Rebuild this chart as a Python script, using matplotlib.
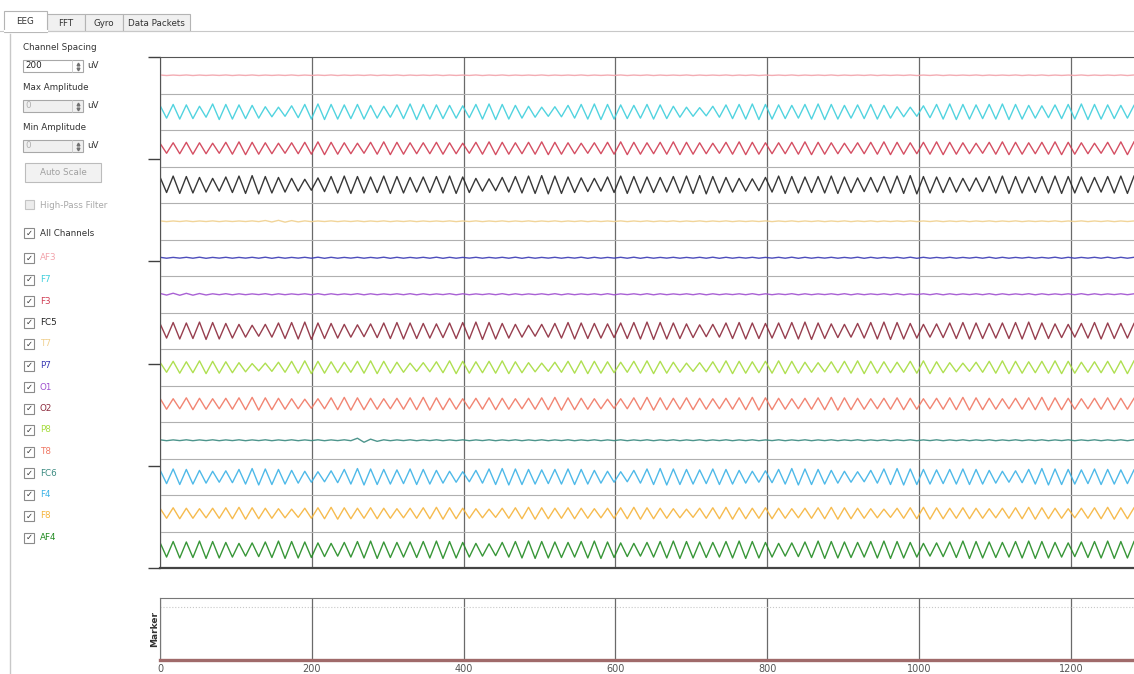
import numpy as np
import matplotlib.pyplot as plt
from matplotlib.patches import Rectangle

# channel names, top to bottom, and their trace colours
channels = ["AF3", "F7", "F3", "FC5", "T7", "P7", "O1",
            "O2", "P8", "T8", "FC6", "F4", "F8", "AF4"]
colors = ["#f2a3ab", "#3fcfdc", "#d03c52", "#222222", "#f0d08e", "#3a3ab4", "#a050d0",
          "#8c2a3c", "#a6dc3e", "#f07864", "#3a8a80", "#3cb2e6", "#f5b43c", "#228b22"]

# peak-to-peak height (uV) of each wave cycle, read left to right
af3 = [3,2,3,2,2,3,2,3,2,2, 3,2,2,3,2,2,3,2,3,2, 2,3,2,2,3,2,3,2,2,3,
       2,2,3,2,2,3,2,3,2,2, 3,2,2,3,2,3,2,2,3,2, 2,3,2,2,3,2,2,3,2,3,
       2,2,3,2,2,3,2,3,2,2, 3,2,2,3]
f7 = [70,80,75,60,85,80,75,70,55,50, 65,80,85,80,75,80,70,60,75,85,
      80,75,70,65,80,85,80,70,60,50, 55,70,80,85,80,75,70,80,75,60,
      50,45,60,75,80,85,80,75,70,80, 85,80,70,75,80,70,55,50,65,80,
      85,80,75,80,85,80,70,65,75,80, 85,80,75,70]
f3 = [55,60,65,60,55,65,70,65,60,55, 60,65,70,65,60,55,65,70,65,60,
      60,65,60,55,65,70,65,60,65,70, 65,60,55,60,65,70,65,60,65,70,
      65,60,55,65,70,65,60,60,65,70, 65,60,55,60,65,70,65,60,65,70,
      65,60,55,65,70,65,60,65,70,65, 60,55,65,70]
fc5 = [85,95,90,80,70,85,95,100,90,80, 70,60,75,90,95,90,85,95,90,80,
       85,90,95,85,70,65,80,90,95,100, 95,85,75,70,85,95,90,85,80,90,
       95,100,90,80,70,65,80,95,90,85, 90,95,85,75,80,90,95,100,90,85,
       80,70,75,90,95,90,85,90,95,90, 85,80,90,95]
t7 = [4,3,4,3,4,3,3,4,8,10, 7,4,3,4,3,4,3,4,3,4, 3,3,4,3,4,3,4,3,4,3,
      4,3,4,3,3,4,3,4,3,4, 3,4,3,4,3,3,4,3,4,3, 4,3,4,3,4,3,3,4,3,4,
      3,4,3,4,3,4,3,3,4,3, 4,3,4,3]
p7 = [5,4,5,6,4,5,4,5,6,5, 4,5,6,5,4,5,4,6,5,4, 5,6,5,4,5,4,5,6,5,4,
      5,4,6,5,4,5,6,5,4,5, 4,5,6,5,4,5,4,5,6,5, 4,5,4,6,5,4,5,6,5,4,
      5,4,5,6,5,4,5,4,6,5, 4,5,6,5]
o1 = [9,11,10,8,5,6,5,4,6,5, 4,5,6,5,4,6,5,4,5,6, 5,4,6,5,4,5,6,5,4,5,
      6,5,4,5,6,4,5,6,5,4, 5,6,5,4,5,6,5,4,6,5, 4,5,6,5,4,5,6,4,5,6,
      5,4,5,6,5,4,6,5,4,5, 6,5,4,5]
o2 = [80,90,85,95,90,80,70,60,70,85, 90,95,85,80,70,65,75,85,90,85,
      80,75,85,90,95,90,80,70,60,70, 80,90,85,80,75,85,90,95,90,85,
      75,65,70,85,90,85,80,85,90,95, 85,75,70,80,90,95,90,80,70,75,
      85,90,85,80,85,90,95,85,75,70, 80,90,85,80]
p8 = [55,65,60,70,65,60,50,40,45,55, 65,70,65,60,55,65,70,65,55,45,
      50,60,70,65,60,65,70,60,50,45, 55,65,70,65,60,55,65,70,65,55,
      45,50,60,70,65,60,65,70,65,55, 50,60,65,70,65,60,55,65,70,60,
      50,45,55,65,70,65,60,65,70,65, 55,60,65,70]
t8 = [60,55,65,60,55,60,65,70,65,60, 55,50,55,65,70,65,60,55,60,65,
      70,65,60,55,60,65,60,55,60,65, 70,65,60,55,50,55,65,70,65,60,
      65,60,55,60,65,70,65,60,55,60, 65,70,65,60,55,60,65,60,55,60,
      65,70,65,60,55,60,65,70,65,60, 55,60,65,60]
fc6 = [5,4,5,4,5,4,5,4,5,4, 5,4,5,4,5,22,12,5,4,5, 4,5,4,5,4,5,4,5,4,5,
       4,5,4,5,4,5,4,5,4,5, 4,5,4,5,4,5,4,5,4,5, 4,5,4,5,4,5,4,5,4,5,
       4,5,4,5,4,5,4,5,4,5, 4,5,4,5]
f4 = [75,85,80,70,60,65,80,90,85,80, 70,60,55,65,80,90,85,80,75,85,
      80,70,60,55,70,85,90,85,80,75, 80,85,80,70,60,55,70,85,90,85,
      80,75,85,80,70,60,65,80,90,85, 80,70,60,55,70,85,90,85,80,75,
      80,85,80,70,60,65,80,90,85,80, 75,85,80,75]
f8 = [55,60,55,50,55,60,65,60,55,50, 45,55,60,65,60,55,60,55,50,55,
      60,65,60,55,50,45,55,60,65,60, 55,60,55,50,55,60,65,60,55,50,
      45,55,60,65,60,55,60,55,50,55, 60,65,60,55,50,45,55,60,65,60,
      55,60,55,50,55,60,65,60,55,50, 55,60,65,60]
af4 = [80,90,85,95,90,80,70,75,85,95, 90,85,75,70,80,90,95,85,80,85,
       90,95,90,80,70,65,80,90,95,90, 85,80,90,95,85,75,70,80,90,95,
       90,85,80,90,95,90,80,70,75,85, 95,90,85,80,90,95,90,80,70,75,
       85,95,90,85,80,90,95,90,80,75, 85,90,95,90]
waves = [af3, f7, f3, fc5, t7, p7, o1, o2, p8, t8, fc6, f4, f8, af4]

n_samples = 1283
channel_spacing = 200
x_ticks = [0, 200, 400, 600, 800, 1000, 1200]
marker_x = [0, 1283]
marker_vals = [0, 0]

W, H = 1134, 674
fig = plt.figure(figsize=(W / 100, H / 100), dpi=100)

# --- window chrome, drawn in pixel coordinates ---
ui = fig.add_axes([0, 0, 1, 1])
ui.set_xlim(0, W)
ui.set_ylim(H, 0)
ui.axis("off")
fs = 6.3

def box(x, y, w, h, fc, ec):
    ui.add_patch(Rectangle((x, y), w, h, facecolor=fc, edgecolor=ec, lw=0.8))

# tabs
ui.plot([0, W], [31, 31], color="#c8c8c8", lw=0.8)
for (x0, x1, name) in [(47, 85, "FFT"), (85, 123, "Gyro"), (123, 190, "Data Packets")]:
    box(x0, 14, x1 - x0, 17, "#f0f0f0", "#b4b4b4")
    ui.text((x0 + x1) / 2, 23, name, fontsize=fs, color="#333333", ha="center", va="center")
box(4, 11, 43, 21, "white", "#b4b4b4")
ui.plot([4.5, 46.5], [31, 31], color="white", lw=1.5)
ui.text(25, 22, "EEG", fontsize=fs, color="#333333", ha="center", va="center")

# left panel
ui.plot([10, 10], [34, H], color="#c8c8c8", lw=1)
for (y, label, value, enabled) in [(48, "Channel Spacing", "200", True),
                                   (88, "Max Amplitude", "0", False),
                                   (128, "Min Amplitude", "0", False)]:
    ui.text(23, y, label, fontsize=fs, color="#333333", va="center")
    fc = "white" if enabled else "#f0f0f0"
    tc = "#222222" if enabled else "#b0b0b0"
    box(23, y + 12, 60, 12, fc, "#a8a8a8")
    ui.plot([72, 72], [y + 12, y + 24], color="#c8c8c8", lw=0.6)
    ui.plot([77.5], [y + 15.5], marker="^", ms=2, color="#707070")
    ui.plot([77.5], [y + 20.5], marker="v", ms=2, color="#707070")
    ui.text(25, y + 18, value, fontsize=fs, color=tc, va="center")
    ui.text(87, y + 18, "uV", fontsize=fs, color="#333333", va="center")

box(25, 163, 76, 19, "#f2f2f2", "#bcbcbc")
ui.text(63, 172.5, "Auto Scale", fontsize=fs, color="#a0a0a0", ha="center", va="center")

box(25, 200, 9, 9, "#ececec", "#c4c4c4")
ui.text(40, 205, "High-Pass Filter", fontsize=fs, color="#a8a8a8", va="center")

def checkbox(y, label, color):
    box(24, y - 5, 10, 10, "white", "#8a8a8a")
    ui.text(29, y, "\u2713", fontsize=6, color="#333333", ha="center", va="center")
    ui.text(40, y, label, fontsize=fs, color=color, va="center")

checkbox(233, "All Channels", "#333333")
for i, (name, c) in enumerate(zip(channels, colors)):
    checkbox(258 + 21.5 * i, name, c)

# --- EEG traces ---
ax = fig.add_axes([160 / W, 1 - 568 / H, 974 / W, 511 / H])
top = channel_spacing * len(channels)
for i, (amps, c) in enumerate(zip(waves, colors)):
    period = n_samples / len(amps)
    xs = np.arange(2 * len(amps) + 1) * period / 2
    half = np.array(amps, dtype=float) / 2
    ys = np.empty(len(xs))
    ys[0:-1:2] = half
    ys[1::2] = -half
    ys[-1] = half[-1]
    center = top - channel_spacing * (i + 0.5)
    ax.plot(xs, ys + center, color=c, lw=1.0, alpha=0.9)

ax.set_xlim(0, n_samples)
ax.set_ylim(0, top)
ax.set_xticks(x_ticks)
ax.set_yticks(np.linspace(0, top, 6))
ax.set_yticks(np.arange(0, top + 1, channel_spacing), minor=True)
ax.tick_params(axis="x", length=0, labelbottom=False)
ax.tick_params(axis="y", which="major", direction="out", length=9, width=1,
               color="#404040", labelleft=False)
ax.tick_params(axis="y", which="minor", length=0)
ax.grid(axis="x", color="#6a6a6a", lw=0.9)
ax.grid(axis="y", which="minor", color="#b0b0b0", lw=0.8)
ax.set_axisbelow(True)
for s in ["left", "top"]:
    ax.spines[s].set_color("#555555")
ax.spines["bottom"].set_color("#444444")
ax.spines["bottom"].set_linewidth(1.6)
ax.spines["right"].set_visible(False)

# --- marker strip ---
mx = fig.add_axes([160 / W, 1 - 660 / H, 974 / W, 62 / H])
mx.set_xlim(0, n_samples)
mx.set_ylim(0, 1)
mx.set_xticks(x_ticks)
mx.set_xticklabels([str(v) for v in x_ticks])
mx.set_yticks([])
mx.tick_params(axis="x", length=0, pad=3, labelsize=7, labelcolor="#555555")
mx.grid(axis="x", color="#6a6a6a", lw=0.9)
mx.axhline(0.85, color="#c8c8c8", lw=0.8, ls=":")
for s in ["left", "top"]:
    mx.spines[s].set_color("#777777")
mx.spines["bottom"].set_visible(False)
mx.spines["right"].set_visible(False)
mx.plot(marker_x, marker_vals, color="#a06a6a", lw=2.4, clip_on=False, zorder=5)
mx.text(-0.006, 0.5, "Marker", transform=mx.transAxes, rotation=90, fontsize=6.5,
        fontweight="bold", color="#333333", ha="center", va="center")

fig.savefig("out.png", dpi=100)
